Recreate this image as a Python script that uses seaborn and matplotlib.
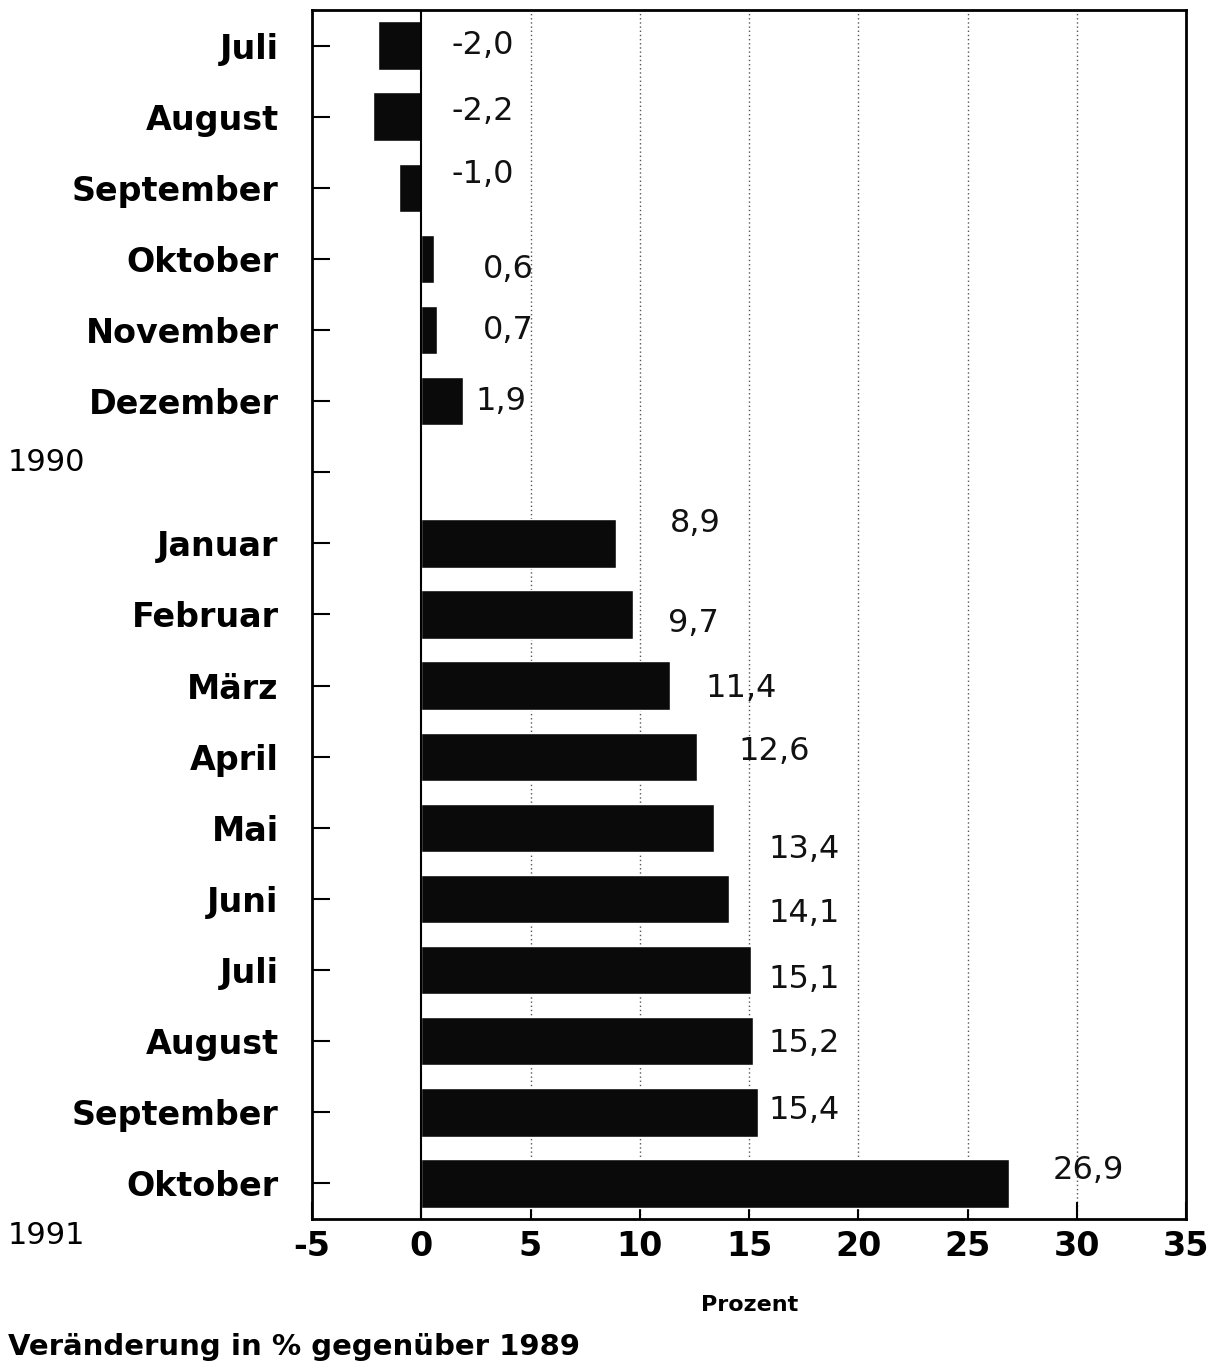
import matplotlib
matplotlib.use("Agg")
import matplotlib.pyplot as plt
import seaborn as sns
import pandas as pd

# data
months = ["Juli", "August", "September", "Oktober", "November", "Dezember",
          "Januar", "Februar", "März", "April", "Mai", "Juni",
          "Juli", "August", "September", "Oktober"]
years = [1990] * 6 + [1991] * 10
values = [-2.0, -2.2, -1.0, 0.6, 0.7, 1.9,
          8.9, 9.7, 11.4, 12.6, 13.4, 14.1, 15.1, 15.2, 15.4, 26.9]
x_ticks = [-5, 0, 5, 10, 15, 20, 25, 30, 35]

# where the value labels sit (x in percent, y shift in rows)
label_x = [1.4, 1.4, 1.4, 2.8, 2.8, 2.5, 11.4, 11.3, 13.0, 14.5,
           15.9, 15.9, 15.9, 15.9, 15.9, 28.9]
label_dy = [0.0, -0.07, -0.18, 0.15, 0.0, 0.0, -0.28, 0.13, 0.04, -0.08,
            0.3, 0.2, 0.13, 0.03, -0.03, -0.18]

keys = [f"{m} {y}" for m, y in zip(months, years)]
df = pd.DataFrame({"key": keys, "value": values})
order = keys[:6] + ["gap"] + keys[6:]
tick_labels = months[:6] + [""] + months[6:]

sns.set_style("white")
plt.rcParams["font.family"] = ["DejaVu Sans"]
plt.rcParams["text.color"] = "black"
plt.rcParams["xtick.color"] = "black"
plt.rcParams["ytick.color"] = "black"

fig = plt.figure(figsize=(12.18, 13.64), dpi=100)
ax = fig.add_axes([312 / 1218, 1 - 1219 / 1364, 874 / 1218, 1209 / 1364])

sns.barplot(data=df, x="value", y="key", order=order, orient="h",
            color="#0a0a0a", saturation=1, width=0.68, ax=ax)

ax.set_xlim(-5, 35)
ax.set_ylim(len(order) - 0.5, -0.5)
ax.set_xticks(x_ticks)
ax.set_xticklabels([str(t) for t in x_ticks], fontsize=24, fontweight="bold")
ax.set_yticks(range(len(order)))
ax.set_yticklabels(tick_labels, fontsize=24, fontweight="bold")
ax.set_xlabel("")
ax.set_ylabel("")

ax.tick_params(axis="y", direction="in", length=13, width=1.5, pad=24, left=True)
ax.tick_params(axis="x", direction="in", length=12, width=1.5, pad=8, bottom=True)

for s in ax.spines.values():
    s.set_visible(True)
    s.set_color("black")
    s.set_linewidth(2)

for t in x_ticks[2:-1]:
    ax.axvline(t, color="#555555", linestyle=(0, (1, 2)), linewidth=1, zorder=0)
ax.axvline(0, color="black", linewidth=1.5, zorder=3)

for i, v in enumerate(values):
    pos = order.index(keys[i])
    txt = f"{v:.1f}".replace(".", ",")
    ax.text(label_x[i], pos + label_dy[i], txt, ha="left", va="center",
            fontsize=23, color="#111111")

fig.text(8 / 1218, 1 - 463 / 1364, "1990", ha="left", va="center", fontsize=22)
fig.text(8 / 1218, 1 - 1235 / 1364, "1991", ha="left", va="center", fontsize=22)
fig.text(750 / 1218, 1 - 1305 / 1364, "Prozent", ha="center", va="center",
         fontsize=16, fontweight="bold")
fig.text(8 / 1218, 1 - 1347 / 1364, "Veränderung in % gegenüber 1989",
         ha="left", va="center", fontsize=21, fontweight="bold")

fig.savefig("out.png", dpi=100)
